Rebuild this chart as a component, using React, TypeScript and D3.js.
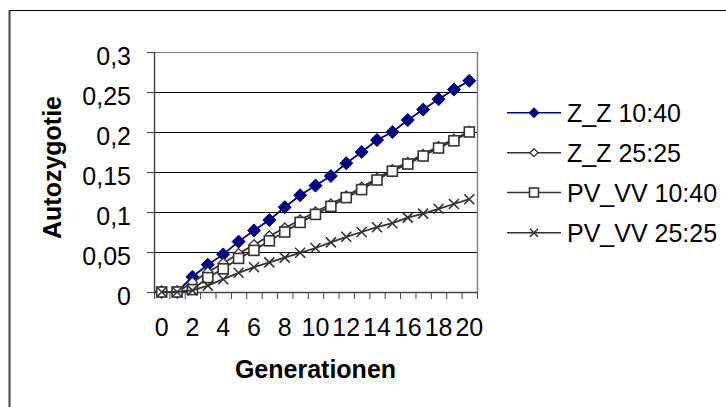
import React from "react";
import * as d3 from "d3";

const generations = d3.range(0, 21);
const xTickLabels = ["0", "2", "4", "6", "8", "10", "12", "14", "16", "18", "20"];
const yTicks = [0, 0.05, 0.1, 0.15, 0.2, 0.25, 0.3];

const zz1040 = [0, 0, 0.019, 0.034, 0.047, 0.063, 0.077, 0.09, 0.106, 0.121, 0.133, 0.145, 0.161, 0.175, 0.19, 0.2, 0.215, 0.228, 0.241, 0.253, 0.264];
const zz2525 = [0, 0, 0.012, 0.025, 0.036, 0.048, 0.059, 0.07, 0.08, 0.09, 0.1, 0.11, 0.12, 0.131, 0.142, 0.153, 0.162, 0.172, 0.182, 0.191, 0.201];
const pv1040 = [0, 0, 0.003, 0.018, 0.029, 0.042, 0.052, 0.064, 0.075, 0.087, 0.097, 0.107, 0.118, 0.128, 0.14, 0.151, 0.16, 0.17, 0.18, 0.189, 0.2];
const pv2525 = [0, 0, 0.002, 0.008, 0.016, 0.024, 0.031, 0.037, 0.043, 0.049, 0.055, 0.062, 0.069, 0.075, 0.081, 0.086, 0.093, 0.098, 0.104, 0.11, 0.116];

const seriesNames = ["Z_Z 10:40", "Z_Z 25:25", "PV_VV 10:40", "PV_VV 25:25"];
const seriesData = [zz1040, zz2525, pv1040, pv2525];
const seriesColors = ["#000080", "#333333", "#333333", "#333333"];
const seriesMarkers = ["diamondFilled", "diamond", "square", "cross"];

const FONT = "'Liberation Sans', Arial, Helvetica, sans-serif";

function Marker({ type, x, y, size, color }: { type: string; x: number; y: number; size: number; color: string }) {
  const h = size / 2;
  if (type === "diamondFilled") {
    return <path d={`M${x},${y - h}L${x + h},${y}L${x},${y + h}L${x - h},${y}Z`} fill={color} stroke={color} strokeWidth={1} />;
  }
  if (type === "diamond") {
    return <path d={`M${x},${y - h}L${x + h},${y}L${x},${y + h}L${x - h},${y}Z`} fill="#fff" stroke={color} strokeWidth={1.3} />;
  }
  if (type === "square") {
    return <rect x={x - h} y={y - h} width={size} height={size} fill="#fff" stroke={color} strokeWidth={1.6} />;
  }
  return <path d={`M${x - h},${y - h}L${x + h},${y + h}M${x - h},${y + h}L${x + h},${y - h}`} stroke={color} strokeWidth={1.6} fill="none" />;
}

export default function App() {
  const W = 726, H = 407;
  const left = 154, right = 477, top = 52, bottom = 292;

  const x = d3.scaleBand<number>().domain(generations).range([left, right]);
  const y = d3.scaleLinear().domain([0, 0.3]).range([bottom, top]);
  const cx = (g: number) => (x(g) as number) + x.bandwidth() / 2;

  const line = d3.line<number>().x((_, i) => cx(generations[i])).y((v) => y(v));

  const plotSizes = [13, 10, 10, 10];
  const legendSizes = [10, 8, 9, 8];
  const legendY = [112.7, 152.7, 192.5, 232.7];

  const fmt = (v: number) => String(v).replace(".", ",");

  return (
    <svg width={W} height={H} style={{ position: "absolute", left: 0, top: 0, background: "#fff" }} fontFamily={FONT}>
      <rect x={0} y={0} width={W} height={H} fill="#fff" />
      <rect x={9.5} y={10.5} width={W + 20} height={H + 20} fill="none" stroke="#000" strokeWidth={1} />
      <line x1={9.5} y1={10} x2={9.5} y2={H} stroke="#444" strokeWidth={2} />

      {yTicks.map((t) => (
        <line key={"g" + t} x1={left} x2={right} y1={y(t) + 0.5} y2={y(t) + 0.5} stroke="#000" strokeWidth={1} />
      ))}
      <line x1={left} x2={right + 0.5} y1={top + 0.5} y2={top + 0.5} stroke="#808080" strokeWidth={1} />
      <line x1={right + 0.5} x2={right + 0.5} y1={top} y2={bottom} stroke="#808080" strokeWidth={1.5} />

      <line x1={left + 0.5} x2={left + 0.5} y1={top} y2={bottom + 1} stroke="#444" strokeWidth={1.5} />
      {yTicks.map((t) => (
        <g key={"yt" + t}>
          <line x1={left - 7} x2={left} y1={y(t) + 0.5} y2={y(t) + 0.5} stroke="#444" strokeWidth={1} />
          <text x={131} y={y(t) + 12.5} textAnchor="end" fontSize={25} fill="#000">{fmt(t)}</text>
        </g>
      ))}

      <line x1={left} x2={right + 1} y1={bottom + 0.5} y2={bottom + 0.5} stroke="#444" strokeWidth={1.5} />
      {d3.range(0, generations.length + 1).map((i) => {
        const xx = left + i * x.step();
        return <line key={"xt" + i} x1={xx + 0.5} x2={xx + 0.5} y1={bottom} y2={bottom + 7} stroke="#444" strokeWidth={1} />;
      })}
      {xTickLabels.map((lab) => (
        <text key={"xl" + lab} x={cx(+lab)} y={336} textAnchor="middle" fontSize={25} fill="#000">{lab}</text>
      ))}

      {seriesData.map((data, si) => (
        <g key={"s" + si}>
          <path d={line(data) as string} fill="none" stroke={seriesColors[si]} strokeWidth={1.8} />
          {data.map((v, i) => (
            <Marker key={i} type={seriesMarkers[si]} x={cx(generations[i])} y={y(v)} size={plotSizes[si]} color={seriesColors[si]} />
          ))}
        </g>
      ))}

      <text transform={`translate(61,167.5) rotate(-90)`} textAnchor="middle" fontSize={25} fontWeight="bold" fill="#000">Autozygotie</text>
      <text x={315.5} y={377.5} textAnchor="middle" fontSize={25} fontWeight="bold" fill="#000">Generationen</text>

      {seriesNames.map((name, si) => (
        <g key={"lg" + si}>
          <line x1={507} x2={561} y1={legendY[si]} y2={legendY[si]} stroke={seriesColors[si]} strokeWidth={1.5} />
          <Marker type={seriesMarkers[si]} x={534} y={legendY[si]} size={legendSizes[si]} color={seriesColors[si]} />
          <text x={567} y={legendY[si] + 9} fontSize={25} fill="#000">{name}</text>
        </g>
      ))}
    </svg>
  );
}
